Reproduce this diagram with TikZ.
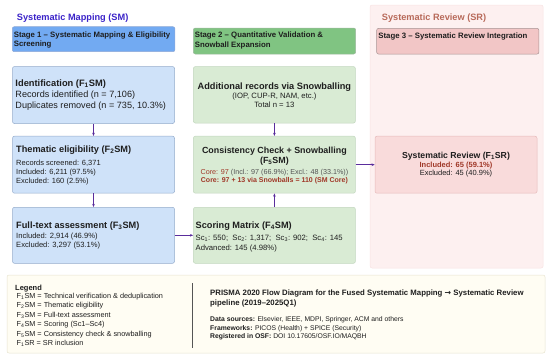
\documentclass[tikz,border=0pt]{standalone}
\usepackage{fontspec}
\setmainfont{Liberation Sans}
\newfontfamily\djv{DejaVu Sans}
\usetikzlibrary{arrows.meta}
\newcommand{\fsz}[1]{\fontsize{#1}{#1}\selectfont}
\definecolor{smtitle}{HTML}{3A22C8}
\definecolor{srtitle}{HTML}{B86A5A}
\definecolor{stoneF}{HTML}{72AAF2}
\definecolor{stoneD}{HTML}{8FA9D6}
\definecolor{sttwoF}{HTML}{80C482}
\definecolor{sttwoD}{HTML}{9DB89D}
\definecolor{stthrF}{HTML}{F2C6C6}
\definecolor{stthrD}{HTML}{A89494}
\definecolor{blueF}{HTML}{CFE2F9}
\definecolor{blueD}{HTML}{94ABCB}
\definecolor{greenF}{HTML}{D9EBD4}
\definecolor{greenD}{HTML}{C2D6BE}
\definecolor{srF}{HTML}{F9DBDB}
\definecolor{srD}{HTML}{E6BABA}
\definecolor{regF}{HTML}{FDF0F0}
\definecolor{regD}{HTML}{F8E2E2}
\definecolor{legF}{HTML}{FFFDF3}
\definecolor{legD}{HTML}{E6E2D0}
\definecolor{redt}{HTML}{A03828}
\definecolor{grayt}{HTML}{555555}
\definecolor{txt}{HTML}{1E1E1E}
\definecolor{arrc}{HTML}{5A2D9C}
\begin{document}
\begin{tikzpicture}[x=1pt,y=-1pt,
  box/.style={rounded corners=2pt, inner sep=0, line width=0.5pt},
  tl/.style={anchor=base west, inner sep=0, text=txt},
  tc/.style={anchor=base, inner sep=0, text=txt},
  arr/.style={-{Stealth[length=3.2pt,width=2.6pt]}, draw=arrc, line width=0.6pt}]
\useasboundingbox (0,0) rectangle (550,357);
% regions
\node[box, fill=regF, draw=regD, minimum width=173pt, minimum height=263pt] (srreg) at (456.6,136.5) {};
\node[box, fill=legF, draw=legD, minimum width=538pt, minimum height=78pt] (leg) at (276,314) {};
% titles
\node[tl, text=smtitle, font=\fsz{9.2}\bfseries] (smt) at (16.7,20.5) {Systematic Mapping (SM)};
\node[tl, text=srtitle, font=\fsz{9.2}\bfseries] (srt) at (381.7,20.5) {Systematic Review (SR)};
% stage boxes
\node[box, fill=stoneF, draw=stoneD, minimum width=162.7pt, minimum height=25pt] (s1) at (93.6,39.2) {};
\node[box, fill=sttwoF, draw=sttwoD, minimum width=162.4pt, minimum height=26pt] (s2) at (274.5,41) {};
\node[box, fill=stthrF, draw=stthrD, minimum width=162.3pt, minimum height=25.7pt] (s3) at (457.8,41.2) {};
\node[tl, font=\fsz{7.8}\bfseries] (s1a) at (13.6,37) {Stage 1 -- Systematic Mapping \& Eligibility};
\node[tl, font=\fsz{7.8}\bfseries] (s1b) at (13.6,46.5) {Screening};
\node[tl, font=\fsz{7.8}\bfseries] (s2a) at (194.6,37.5) {Stage 2 -- Quantitative Validation \&};
\node[tl, font=\fsz{7.8}\bfseries] (s2b) at (194.6,47) {Snowball Expansion};
\node[tl, font=\fsz{7.8}\bfseries] (s3a) at (378.2,38.7) {Stage 3 -- Systematic Review Integration};
% left column
\node[box, fill=blueF, draw=blueD, minimum width=162pt, minimum height=57pt] (id) at (93.5,95) {};
\node[box, fill=blueF, draw=blueD, minimum width=162pt, minimum height=57pt] (th) at (93.5,164.7) {};
\node[box, fill=blueF, draw=blueD, minimum width=162pt, minimum height=56pt] (ft) at (93.5,235.3) {};
\node[tl, font=\fsz{9.3}\bfseries] (idt) at (15.3,86) {Identification (F\textsubscript{1}SM)};
\node[tl, font=\fsz{9.1}] (id1) at (15.3,97.5) {Records identified (n = 7,106)};
\node[tl, font=\fsz{9.1}] (id2) at (15.3,108.5) {Duplicates removed (n = 735, 10.3\%)};
\node[tl, font=\fsz{9.2}\bfseries] (tht) at (16,152.5) {Thematic eligibility (F\textsubscript{2}SM)};
\node[tl, font=\fsz{7.5}] (th1) at (16,165) {Records screened: 6,371};
\node[tl, font=\fsz{7.5}] (th2) at (16,174) {Included: 6,211 (97.5\%)};
\node[tl, font=\fsz{7.5}] (th3) at (16,183) {Excluded: 160 (2.5\%)};
\node[tl, font=\fsz{9.2}\bfseries] (ftt) at (16,228) {Full-text assessment (F\textsubscript{3}SM)};
\node[tl, font=\fsz{7.6}] (ft1) at (16,238) {Included: 2,914 (46.9\%)};
\node[tl, font=\fsz{7.6}] (ft2) at (16,247) {Excluded: 3,297 (53.1\%)};
% middle column
\node[box, fill=greenF, draw=greenD, minimum width=162pt, minimum height=56.5pt] (ad) at (274.4,94.8) {};
\node[box, fill=greenF, draw=greenD, minimum width=162pt, minimum height=57pt] (cc) at (274.4,164.7) {};
\node[box, fill=greenF, draw=greenD, minimum width=162pt, minimum height=56pt] (sc) at (274.4,235.3) {};
\node[tc, font=\fsz{9.2}\bfseries] (adt) at (274.4,89.5) {Additional records via Snowballing};
\node[tc, font=\fsz{7.7}] (ad1) at (274.4,98) {(IOP, CUP-R, NAM, etc.)};
\node[tc, font=\fsz{7.7}] (ad2) at (274.4,107.5) {Total n = 13};
\node[tc, font=\fsz{8.9}\bfseries] (cct) at (274.4,153) {Consistency Check + Snowballing};
\node[tc, font=\fsz{8.9}\bfseries] (cc0) at (274.4,163.5) {(F\textsubscript{5}SM)};
\node[tc, font=\fsz{7.2}] (cc1) at (274.4,174) {{\color{redt}Core: 97} {\color{grayt}(Incl.: 97 (66.9\%); Excl.: 48 (33.1\%))}};
\node[tc, font=\fsz{7}\bfseries, text=redt] (cc2) at (274.4,182.5) {Core: 97 + 13 via Snowballs = 110 (SM Core)};
\node[tl, font=\fsz{9.2}\bfseries] (sct) at (195.5,228) {Scoring Matrix (F\textsubscript{4}SM)};
\node[tl, font=\fsz{7.7}] (sc1) at (195.5,240.5) {Sc\textsubscript{1}: 550;\ \ Sc\textsubscript{2}: 1,317;\ \ Sc\textsubscript{3}: 902;\ \ Sc\textsubscript{4}: 145};
\node[tl, font=\fsz{7.7}] (sc2) at (195.5,250) {Advanced: 145 (4.98\%)};
% SR box
\node[box, fill=srF, draw=srD, minimum width=162pt, minimum height=57pt] (sr) at (456,164.7) {};
\node[tc, font=\fsz{8.7}\bfseries] (srtt) at (456,158) {Systematic Review (F\textsubscript{1}SR)};
\node[tc, font=\fsz{7.5}\bfseries, text=redt] (sr1) at (456,167.5) {Included: 65 (59.1\%)};
\node[tc, font=\fsz{7.5}] (sr2) at (456,175.5) {Excluded: 45 (40.9\%)};
% arrows
\draw[arr] (id) -- (th);
\draw[arr] (th) -- (ft);
\draw[arr] (ft) -- (sc);
\draw[arr] (ad) -- (cc);
\draw[arr] (sc) -- (cc);
\draw[arr] (cc) -- (sr);
% legend
\node[tl, font=\fsz{7.5}\bfseries] (lgt) at (15,290) {Legend};
\node[tl, font=\fsz{7.3}] (lg1) at (16.5,298) {F\textsubscript{1}SM = Technical verification \& deduplication};
\node[tl, font=\fsz{7.3}] (lg2) at (16.5,307.5) {F\textsubscript{2}SM = Thematic eligibility};
\node[tl, font=\fsz{7.3}] (lg3) at (16.5,317) {F\textsubscript{3}SM = Full-text assessment};
\node[tl, font=\fsz{7.3}] (lg4) at (16.5,326.5) {F\textsubscript{4}SM = Scoring (Sc1--Sc4)};
\node[tl, font=\fsz{7.3}] (lg5) at (16.5,336) {F\textsubscript{5}SM = Consistency check \& snowballing};
\node[tl, font=\fsz{7.3}] (lg6) at (16.5,345.5) {F\textsubscript{1}SR = SR inclusion};
\coordinate (sepa) at (192.7,283.3);
\coordinate (sepb) at (192.7,348.3);
\draw[draw=grayt, line width=0.8pt] (sepa) -- (sepb);
\node[tl, font=\fsz{7.8}\bfseries] (in1) at (210,295.5) {PRISMA 2020 Flow Diagram for the Fused Systematic Mapping {\djv →} Systematic Review};
\node[tl, font=\fsz{7.8}\bfseries] (in2) at (210,305) {pipeline (2019--2025Q1)};
\node[tl, font=\fsz{6.8}] (in3) at (210,321.5) {\textbf{Data sources:} Elsevier, IEEE, MDPI, Springer, ACM and others};
\node[tl, font=\fsz{6.8}] (in4) at (210,330) {\textbf{Frameworks:} PICOS (Health) + SPICE (Security)};
\node[tl, font=\fsz{6.8}] (in5) at (210,338.5) {\textbf{Registered in OSF:} DOI 10.17605/OSF.IO/MAQBH};
\end{tikzpicture}
\end{document}
